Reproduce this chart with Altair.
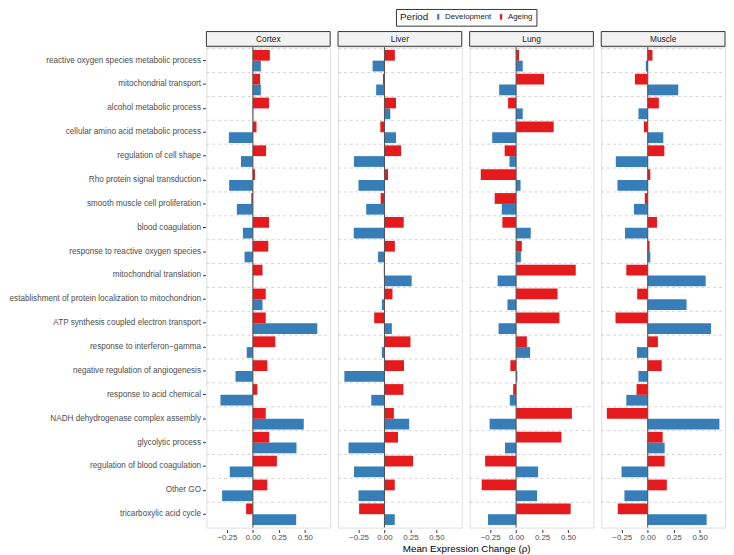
import altair as alt
import pandas as pd

categories = [
    "reactive oxygen species metabolic process",
    "mitochondrial transport",
    "alcohol metabolic process",
    "cellular amino acid metabolic process",
    "regulation of cell shape",
    "Rho protein signal transduction",
    "smooth muscle cell proliferation",
    "blood coagulation",
    "response to reactive oxygen species",
    "mitochondrial translation",
    "establishment of protein localization to mitochondrion",
    "ATP synthesis coupled electron transport",
    "response to interferon\u2212gamma",
    "negative regulation of angiogenesis",
    "response to acid chemical",
    "NADH dehydrogenase complex assembly",
    "glycolytic process",
    "regulation of blood coagulation",
    "Other GO",
    "tricarboxylic acid cycle",
]
tissues = ["Cortex", "Liver", "Lung", "Muscle"]
periods = ["Development", "Ageing"]

cortex_dev = [0.077, 0.077, 0.003, -0.231, -0.114, -0.228, -0.154, -0.096, -0.08, 0.003,
              0.093, 0.62, -0.059, -0.167, -0.312, 0.49, 0.42, -0.222, -0.296, 0.417]
cortex_age = [0.163, 0.07, 0.155, 0.035, 0.127, 0.02, -0.015, 0.155, 0.148, 0.093,
              0.124, 0.124, 0.216, 0.139, 0.043, 0.124, 0.157, 0.231, 0.139, -0.065]
liver_dev = [-0.114, -0.08, 0.056, 0.111, -0.293, -0.25, -0.176, -0.296, -0.062, 0.262,
             -0.025, 0.071, -0.025, -0.386, -0.127, 0.238, -0.346, -0.293, -0.25, 0.099]
liver_age = [0.10, -0.015, 0.111, -0.04, 0.16, 0.034, -0.037, 0.185, 0.10, -0.006,
             0.077, -0.099, 0.25, 0.188, 0.182, 0.09, 0.13, 0.275, 0.099, -0.244]
lung_dev = [0.064, -0.163, 0.064, -0.23, -0.064, 0.043, -0.138, 0.141, 0.046, -0.178,
            -0.083, -0.169, 0.135, 0.012, -0.061, -0.255, -0.107, 0.212, 0.202, -0.27]
lung_age = [0.028, 0.27, -0.077, 0.362, -0.11, -0.34, -0.206, -0.132, 0.055, 0.574,
            0.399, 0.417, 0.104, -0.055, -0.028, 0.537, 0.436, -0.298, -0.331, 0.525]
muscle_dev = [-0.018, 0.294, -0.089, 0.15, -0.307, -0.291, -0.132, -0.218, 0.025, 0.558,
              0.374, 0.61, -0.104, -0.089, -0.206, 0.69, 0.163, -0.252, -0.224, 0.567]
muscle_age = [0.046, -0.123, 0.107, -0.037, 0.16, 0.025, -0.028, 0.089, 0.018, -0.206,
              -0.101, -0.31, 0.098, 0.135, -0.107, -0.393, 0.144, 0.163, 0.184, -0.288]

series = {
    ("Cortex", "Development"): cortex_dev,
    ("Cortex", "Ageing"): cortex_age,
    ("Liver", "Development"): liver_dev,
    ("Liver", "Ageing"): liver_age,
    ("Lung", "Development"): lung_dev,
    ("Lung", "Ageing"): lung_age,
    ("Muscle", "Development"): muscle_dev,
    ("Muscle", "Ageing"): muscle_age,
}
rows = []
for (t, p), vals in series.items():
    for c, v in zip(categories, vals):
        rows.append({"Tissue": t, "Period": p, "Category": c, "Value": v})
df = pd.DataFrame(rows)

W = 126
H = 489
FONT = "Liberation Sans"

one_per_panel = (alt.datum.Period == "Development") & (alt.datum.Category == categories[0])

y_scale = alt.Scale(type="band", paddingInner=0, paddingOuter=0.06)

y_enc = alt.Y(
    "Category:N", sort=categories, scale=y_scale,
    axis=alt.Axis(title=None, labelFontSize=8.3, labelColor="#4d4d4d", labelFont=FONT,
                  tickColor="#333333", tickSize=3, domain=False, labelPadding=2,
                  labelLimit=400, grid=False),
)

grid = alt.Chart().transform_filter(alt.datum.Period == "Development").mark_rule(
    strokeDash=[3, 3], color="#c8c8c8", strokeWidth=0.8
).encode(
    y=alt.Y("Category:N", sort=categories, bandPosition=0, scale=y_scale),
    x=alt.value(0), x2=alt.value(W),
)

bars = alt.Chart().mark_bar().encode(
    x=alt.X("Value:Q",
            scale=alt.Scale(domain=[-0.447, 0.744], nice=False),
            axis=alt.Axis(title=None, values=[-0.25, 0, 0.25, 0.5], format=".2f",
                          grid=False, domain=False, tickSize=3, tickColor="#333333",
                          labelFontSize=8, labelColor="#4d4d4d", labelFont=FONT,
                          labelPadding=1)),
    y=y_enc,
    yOffset=alt.YOffset("Period:N", sort=["Ageing", "Development"],
                        scale=alt.Scale(paddingInner=0, paddingOuter=0.11)),
    color=alt.Color("Period:N", sort=periods,
                    scale=alt.Scale(domain=periods, range=["#377EB8", "#E41A1C"]),
                    legend=alt.Legend(
                        title="Period", orient="none", legendX=193, legendY=-39,
                        direction="horizontal", titleOrient="left",
                        strokeColor="#333333", padding=4,
                        labelFontSize=8, labelFont=FONT, labelColor="#1a1a1a",
                        titleFontSize=10, titleFont=FONT, titleFontWeight="normal",
                        titleColor="#1a1a1a", titlePadding=6,
                        symbolType="M-0.4,-1L0.4,-1L0.4,1L-0.4,1Z", symbolSize=32,
                        symbolStrokeWidth=0, columnPadding=5, labelOffset=3)),
)

zero = alt.Chart().transform_filter(one_per_panel).mark_rule(
    color="#555555", strokeWidth=1.1
).encode(x=alt.datum(0))

strip = alt.Chart().transform_filter(one_per_panel).mark_rect(
    fill="#f2f2f2", stroke="#333333", strokeWidth=1
).encode(x=alt.value(0), x2=alt.value(W), y=alt.value(-16), y2=alt.value(-1))

strip_text = alt.Chart().transform_filter(one_per_panel).mark_text(
    fontSize=8.5, color="#1a1a1a", font=FONT
).encode(text="Tissue:N", x=alt.value(W / 2), y=alt.value(-8.5))

chart = alt.layer(grid, bars, zero, strip, strip_text, data=df).properties(
    width=W, height=H
).facet(
    column=alt.Column("Tissue:N", sort=tissues, title=None,
                      header=alt.Header(labels=False, labelPadding=0, titlePadding=0)),
    spacing=6,
).properties(
    title=alt.TitleParams("Mean Expression Change (\u03c1)", orient="bottom",
                          anchor="middle", fontSize=10, font=FONT, dx=101,
                          fontWeight="normal", color="#000000", offset=3),
    padding={"left": 0, "top": -5, "right": 0, "bottom": 0},
).configure_view(stroke=None).configure_scale(
    bandPaddingInner=0, bandPaddingOuter=0.06
).configure(font=FONT)

chart.save("out.html", embed_options={"renderer": "svg", "actions": False})
